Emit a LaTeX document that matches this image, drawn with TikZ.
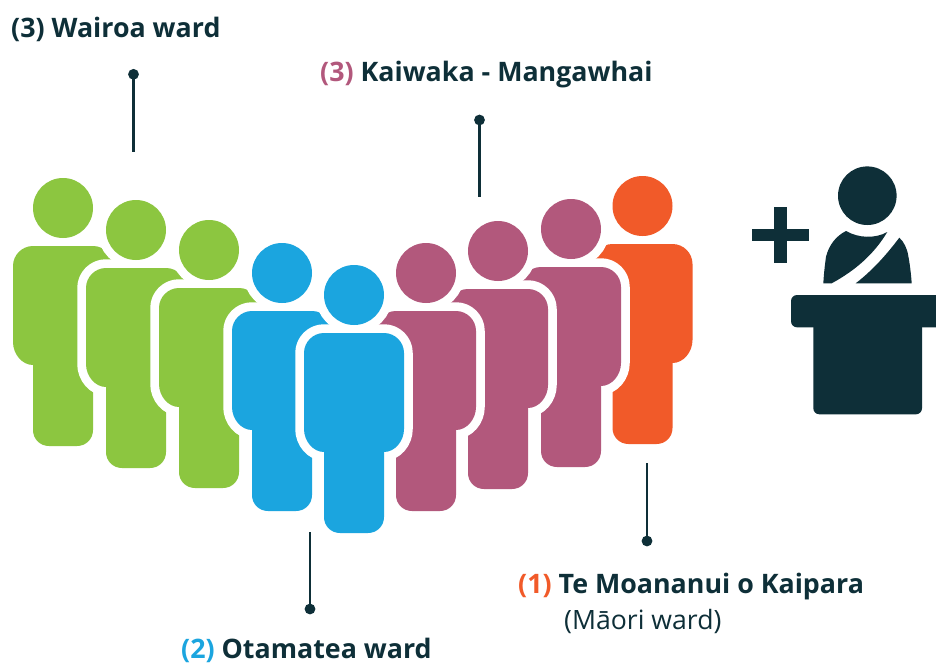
\documentclass[tikz,border=0pt]{standalone}
\usepackage{fontspec}
\setmainfont{Open Sans}
\definecolor{cgreen}{HTML}{8CC640}
\definecolor{cblue}{HTML}{1BA5DF}
\definecolor{cpink}{HTML}{B2587C}
\definecolor{corange}{HTML}{F15A29}
\definecolor{cdark}{HTML}{0E2F38}
\tikzset{
  lbl/.style={anchor=base west,inner sep=0pt,text=cdark,font=\fontsize{26.8}{32}\selectfont\bfseries},
  dotnode/.style={circle,fill=cdark,inner sep=0pt,minimum size=10.8pt},
  leader/.style={draw=cdark,line width=2.7pt},
}
\newcommand{\bodyshape}{(-30,157) .. controls (-41,157) and (-50,146) .. (-50,134) -- (-50,58) .. controls (-50,47) and (-41,38) .. (-30,38) -- (30,38) .. controls (41,38) and (50,47) .. (50,58) -- (50,134) .. controls (50,146) and (41,157) .. (30,157) -- (30,222) .. controls (30,231) and (23,238) .. (14,238) -- (-14,238) .. controls (-23,238) and (-30,231) .. (-30,222) -- cycle}
\newcommand{\person}[3]{%
  \begin{scope}[shift={(#1,#2)}]
    \path[draw=white,line width=17.5pt,line join=round] (0,0) circle[radius=30pt];
    \path[draw=white,line width=17.5pt,line join=round] \bodyshape;
    \fill[#3] (0,0) circle[radius=30pt];
    \fill[#3] \bodyshape;
  \end{scope}}
\begin{document}
\begin{tikzpicture}[x=1pt,y=-1pt]
\clip (0,0) rectangle (936,665);
\fill[white] (0,0) rectangle (936,665);
% people, back to front
\person{63}{208}{cgreen}
\person{136}{230}{cgreen}
\person{209}{250}{cgreen}
\person{282}{273}{cblue}
\person{642.5}{206}{corange}
\person{571}{229}{cpink}
\person{498}{251}{cpink}
\person{426}{273}{cpink}
\person{354}{295}{cblue}
% plus
\fill[cdark] (752.3,229) rectangle (809.3,241.3);
\fill[cdark] (774.3,206.7) rectangle (787,263.3);
% speaker
\fill[cdark] (867.3,195.7) circle[radius=29.3pt];
\fill[cdark] (823.3,283.3) .. controls (824,272) and (825,264) .. (826,256.7) .. controls (829,245) and (836,236) .. (846,231) .. controls (858,238) and (875,239) .. (887.3,232) .. controls (874,254) and (856,270) .. (831.7,283.3) -- cycle;
\fill[cdark] (855.7,283.3) .. controls (873,270) and (887,254) .. (899.3,237.7) .. controls (904,242) and (907,248) .. (908.3,256) .. controls (910,265) and (911,274) .. (911.7,283.3) -- cycle;
% podium
\fill[cdark,rounded corners=6pt] (791,295) rectangle (945,327.3);
\fill[cdark,rounded corners=6pt] (813.3,320) rectangle (922,414.3);
% labels
\node[lbl] (wairoa) at (11,37) {(3) Wairoa ward};
\node[lbl] (kaiwaka) at (320,81) {\textcolor{cpink}{(3)} Kaiwaka - Mangawhai};
\node[lbl] (moana) at (518,593) {\textcolor{corange}{(1)} Te Moananui o Kaipara};
\node[lbl,font=\fontsize{26.6}{32}\selectfont] (maori) at (564,629) {(Māori ward)};
\node[lbl] (otamatea) at (181,658) {\textcolor{cblue}{(2)} Otamatea ward};
% leaders
\node[dotnode] (d1) at (133.5,74.3) {};
\coordinate (e1) at (133.5,152);
\draw[leader] (d1.center) -- (e1);
\node[dotnode] (d2) at (479.5,120) {};
\coordinate (e2) at (479.5,197);
\draw[leader] (d2.center) -- (e2);
\node[dotnode] (d3) at (310,609) {};
\coordinate (e3) at (310,532);
\draw[leader] (d3.center) -- (e3);
\node[dotnode] (d4) at (647,541) {};
\coordinate (e4) at (647,463);
\draw[leader] (d4.center) -- (e4);
\end{tikzpicture}
\end{document}
